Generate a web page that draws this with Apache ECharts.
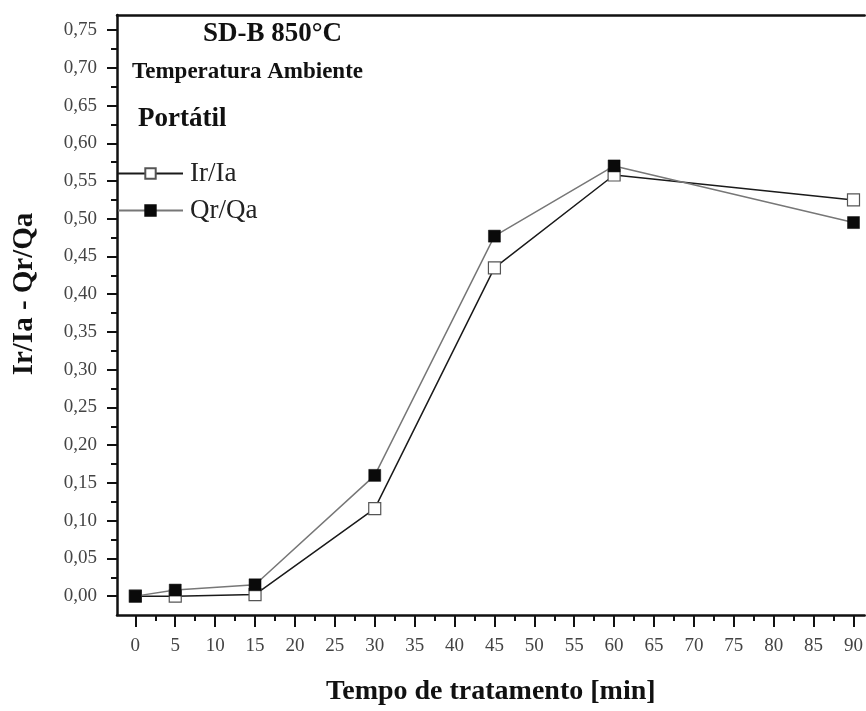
<!DOCTYPE html>
<html>
<head>
<meta charset="utf-8">
<script src="https://cdn.jsdelivr.net/npm/echarts@6/dist/echarts.min.js"></script>
<style>
  html, body { margin: 0; padding: 0; background: #fff; }
  #chart { width: 866px; height: 711px; }
</style>
</head>
<body>
<div id="chart"></div>
<script>
// Treatment time [min] and measured ratios
const tempos = [0, 5, 15, 30, 45, 60, 90];
const irIa = [0.000, 0.000, 0.002, 0.116, 0.435, 0.558, 0.525];
const qrQa = [0.000, 0.008, 0.015, 0.160, 0.477, 0.570, 0.495];

// Tick positions
const xTicks = [0, 5, 10, 15, 20, 25, 30, 35, 40, 45, 50, 55, 60, 65, 70, 75, 80, 85, 90];
const xMinor = [2.5, 7.5, 12.5, 17.5, 22.5, 27.5, 32.5, 37.5, 42.5, 47.5, 52.5, 57.5, 62.5, 67.5, 72.5, 77.5, 82.5, 87.5];
const yTicks = [0, 0.05, 0.10, 0.15, 0.20, 0.25, 0.30, 0.35, 0.40, 0.45, 0.50, 0.55, 0.60, 0.65, 0.70, 0.75];
const yMinor = [0.025, 0.075, 0.125, 0.175, 0.225, 0.275, 0.325, 0.375, 0.425, 0.475, 0.525, 0.575, 0.625, 0.675, 0.725];

const FONT = 'Liberation Serif';
const X_MIN = -2.3, X_MAX = 91.4, Y_MIN = -0.025, Y_MAX = 0.77;

const pairs = (xs, ys) => xs.map((x, i) => [x, ys[i]]);

const chart = echarts.init(document.getElementById('chart'), null, { renderer: 'canvas' });

const boldText = (text, x, y, size, extra) => Object.assign({
  type: 'text', x: x, y: y,
  style: { text: text, fontFamily: FONT, fontWeight: 'bold', fontSize: size, fill: '#111', align: 'left', verticalAlign: 'middle' }
}, extra || {});

chart.setOption({
  backgroundColor: '#fff',
  animation: false,
  grid: { left: 117, right: 0, top: 15, bottom: 93, containLabel: false },
  legend: {
    orient: 'vertical',
    left: 117,
    top: 160,
    padding: 0,
    itemWidth: 65,
    itemHeight: 13,
    itemGap: 10,
    textStyle: { fontFamily: FONT, fontSize: 27, color: '#222', padding: [0, 0, 0, 2] },
    data: ['Ir/Ia', 'Qr/Qa']
  },
  xAxis: [
    {
      type: 'value', position: 'bottom', min: X_MIN, max: X_MAX,
      name: 'Tempo de tratamento [min]', nameLocation: 'middle', nameGap: 63,
      nameTextStyle: { fontFamily: FONT, fontWeight: 'bold', fontSize: 28, color: '#111' },
      axisLine: { show: true, onZero: false, lineStyle: { color: '#111', width: 2.5 } },
      axisTick: { show: true, inside: false, length: 12, customValues: xTicks, lineStyle: { color: '#111', width: 2 } },
      axisLabel: { customValues: xTicks, margin: 22, fontFamily: FONT, fontSize: 19, color: '#444' },
      splitLine: { show: false }
    },
    {
      type: 'value', position: 'bottom', min: X_MIN, max: X_MAX,
      axisLine: { show: false, onZero: false },
      axisTick: { show: true, length: 6, customValues: xMinor, lineStyle: { color: '#111', width: 2 } },
      axisLabel: { show: false },
      splitLine: { show: false }
    },
    {
      type: 'value', position: 'top', min: X_MIN, max: X_MAX,
      axisLine: { show: true, onZero: false, lineStyle: { color: '#111', width: 2.5 } },
      axisTick: { show: false },
      axisLabel: { show: false },
      splitLine: { show: false }
    }
  ],
  yAxis: [
    {
      type: 'value', position: 'left', min: Y_MIN, max: Y_MAX,
      axisLine: { show: true, onZero: false, lineStyle: { color: '#111', width: 2.5 } },
      axisTick: { show: true, length: 10, customValues: yTicks, lineStyle: { color: '#111', width: 2 } },
      axisLabel: {
        customValues: yTicks, margin: 20, fontFamily: FONT, fontSize: 19, color: '#444',
        formatter: v => v.toFixed(2).replace('.', ',')
      },
      splitLine: { show: false }
    },
    {
      type: 'value', position: 'left', min: Y_MIN, max: Y_MAX,
      axisLine: { show: false, onZero: false },
      axisTick: { show: true, length: 6, customValues: yMinor, lineStyle: { color: '#111', width: 2 } },
      axisLabel: { show: false },
      splitLine: { show: false }
    }
  ],
  series: [
    {
      name: 'Ir/Ia', type: 'line', xAxisIndex: 0, yAxisIndex: 0,
      data: pairs(tempos, irIa),
      symbol: 'rect', symbolSize: 12,
      lineStyle: { color: '#1a1a1a', width: 1.5 },
      itemStyle: { color: '#fff', borderColor: '#555', borderWidth: 1.2 },
      z: 2
    },
    {
      name: 'Qr/Qa', type: 'line', xAxisIndex: 0, yAxisIndex: 0,
      data: pairs(tempos, qrQa),
      symbol: 'rect', symbolSize: 12,
      lineStyle: { color: '#777', width: 1.5 },
      itemStyle: { color: '#0a0a0a', borderColor: '#0a0a0a', borderWidth: 0.5 },
      z: 3
    }
  ],
  graphic: [
    boldText('SD-B 850°C', 203, 34, 27),
    boldText('Temperatura Ambiente', 132, 72, 23),
    boldText('Portátil', 138, 119, 27),
    boldText('Ir/Ia - Qr/Qa', 25, 294, 29, { rotation: Math.PI / 2, style: {
      text: 'Ir/Ia - Qr/Qa', fontFamily: FONT, fontWeight: 'bold', fontSize: 29, fill: '#111', align: 'center', verticalAlign: 'middle'
    } })
  ]
});
</script>
</body>
</html>
